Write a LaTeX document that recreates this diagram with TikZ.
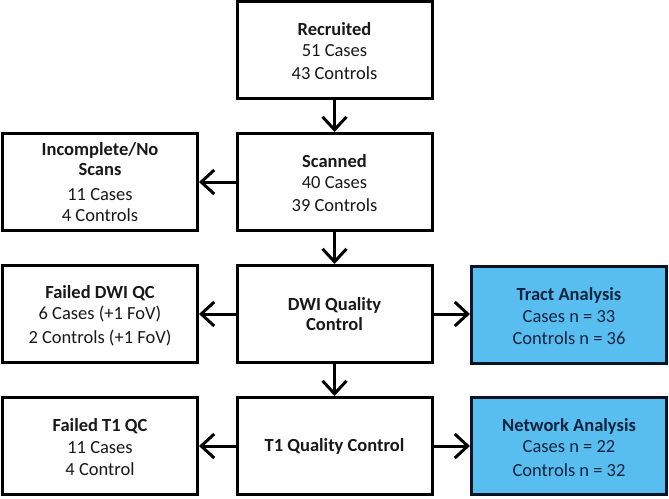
\documentclass[tikz,border=0pt]{standalone}
\usepackage{fontspec}
\setmainfont{Carlito}
\usetikzlibrary{arrows.meta}
\definecolor{boxblue}{RGB}{88,190,239}
\definecolor{navytext}{RGB}{16,36,64}
\definecolor{darktext}{RGB}{25,25,25}
\newcommand{\topstrut}{\rule{0pt}{16pt}}
\tikzset{
  flowbox/.style={draw=black, line width=3pt, fill=white, minimum width=195pt, minimum height=97pt,
    inner sep=0pt, align=center, text=darktext, font=\fontsize{18.5}{21}\selectfont},
  bluebox/.style={flowbox, fill=boxblue, draw={rgb,255:red,10;green,20;blue,35}, text=navytext},
  arr/.style={line width=3pt, -{Straight Barb[length=13pt,width=24pt,line width=3pt]}}
}
\begin{document}
\begin{tikzpicture}[x=1pt,y=-1pt]
\useasboundingbox (0,0) rectangle (669,498);
\node[flowbox] (rec) at (334.5,50) {\topstrut\textbf{Recruited}\\ 51 Cases\\[2pt] 43 Controls};
\node[flowbox] (scan) at (334.5,182) {\topstrut\textbf{Scanned}\\ 40 Cases\\[2pt] 39 Controls};
\node[flowbox] (inc) at (100,182) {\textbf{Incomplete/No}\\[-1pt] \textbf{Scans}\\[4pt] 11 Cases\\ 4 Controls};
\node[flowbox] (dwi) at (334.5,314) {\textbf{DWI Quality}\\[-1pt] \textbf{Control}};
\node[flowbox] (fdwi) at (100,314) {\topstrut\textbf{Failed DWI QC}\\ 6 Cases (+1 FoV)\\[3pt] 2 Controls (+1 FoV)};
\node[bluebox] (tract) at (569,315) {\topstrut\textbf{Tract Analysis}\\[1pt] Cases n = 33\\[1pt] Controls n = 36};
\node[flowbox] (t1) at (334.5,446) {\textbf{T1 Quality Control}};
\node[flowbox] (ft1) at (100,446) {\topstrut\textbf{Failed T1 QC}\\[1pt] 11 Cases\\[1pt] 4 Control};
\node[bluebox] (net) at (569,446) {\topstrut\textbf{Network Analysis}\\ Cases n = 22\\[3pt] Controls n = 32};
\draw[arr] (rec.south) -- (scan.north);
\draw[arr] (scan.south) -- (dwi.north);
\draw[arr] (dwi.south) -- (t1.north);
\draw[arr] (scan.west) -- (inc.east);
\draw[arr] (dwi.west) -- (fdwi.east);
\draw[arr] (dwi.east) -- (tract.west |- dwi.east);
\draw[arr] (t1.west) -- (ft1.east);
\draw[arr] (t1.east) -- (net.west);
\end{tikzpicture}
\end{document}
